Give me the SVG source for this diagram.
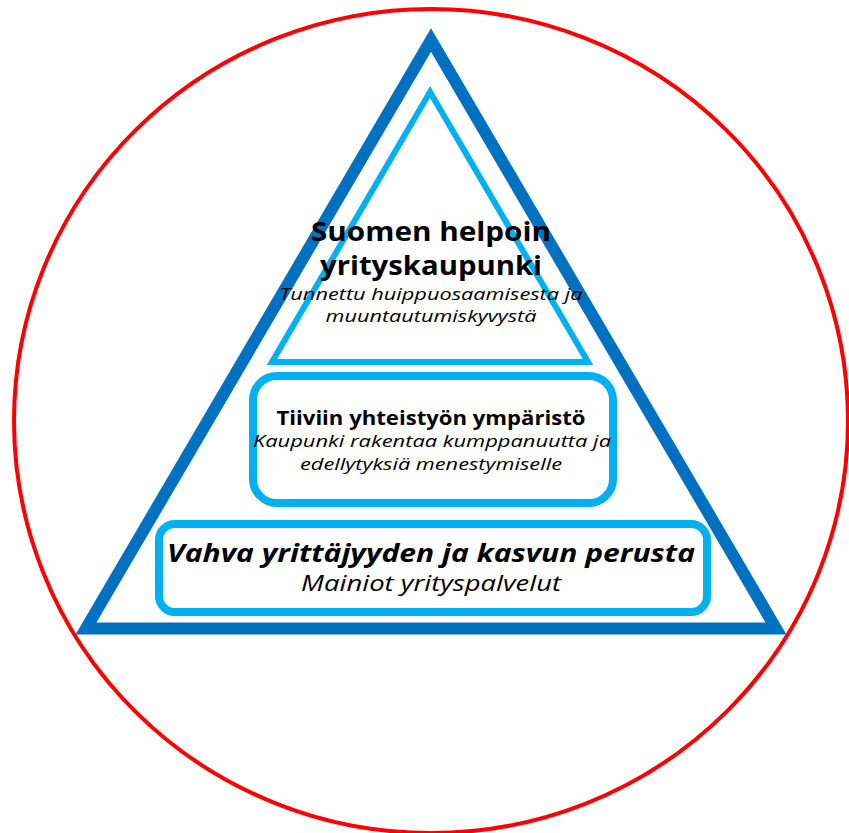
<svg xmlns="http://www.w3.org/2000/svg" width="849" height="833" viewBox="0 0 849 833">
<style>
text{font-family:"Open Sans","Liberation Sans",sans-serif;fill:#000;text-anchor:middle}
.b{font-weight:700}
.i{font-style:italic}
.box{fill:#fff;stroke:#00B0F0;stroke-width:8}
</style>
<rect width="849" height="833" fill="#fff"/>
<g id="circle"><ellipse cx="431" cy="421" rx="417" ry="412" fill="none" stroke="#FF0000" stroke-width="4"/></g>
<g id="outer-triangle"><polygon points="431,40 86,628.5 776,628.5" fill="none" stroke="#0070C0" stroke-width="12" stroke-linejoin="miter"/></g>
<g id="top-tier">
<polygon points="430,92 272,362 588,362" fill="none" stroke="#00B0F0" stroke-width="6" stroke-linejoin="miter"/>
<text class="b" x="431" y="241" font-size="27" textLength="240" lengthAdjust="spacingAndGlyphs">Suomen helpoin</text>
<text class="b" x="431" y="275" font-size="27" textLength="222" lengthAdjust="spacingAndGlyphs">yrityskaupunki</text>
<text class="i" x="431" y="300" font-size="17" textLength="303" lengthAdjust="spacingAndGlyphs">Tunnettu huippuosaamisesta ja</text>
<text class="i" x="431" y="322" font-size="17" textLength="211" lengthAdjust="spacingAndGlyphs">muuntautumiskyvystä</text>
</g>
<g id="middle-tier">
<rect class="box" x="253" y="376" width="360" height="127" rx="24"/>
<text class="b" x="431" y="425" font-size="19" textLength="309" lengthAdjust="spacingAndGlyphs">Tiiviin yhteistyön ympäristö</text>
<text class="i" x="432" y="447" font-size="16" textLength="358" lengthAdjust="spacingAndGlyphs">Kaupunki rakentaa kumppanuutta ja</text>
<text class="i" x="431" y="470" font-size="16" textLength="262" lengthAdjust="spacingAndGlyphs">edellytyksiä menestymiselle</text>
</g>
<g id="bottom-tier">
<rect class="box" x="159" y="524" width="548" height="88" rx="16"/>
<text class="b i" x="431" y="562" font-size="25" textLength="528" lengthAdjust="spacingAndGlyphs">Vahva yrittäjyyden ja kasvun perusta</text>
<text class="i" x="431" y="591" font-size="22" textLength="260" lengthAdjust="spacingAndGlyphs">Mainiot yrityspalvelut</text>
</g>
<g id="connectors"/>
</svg>
